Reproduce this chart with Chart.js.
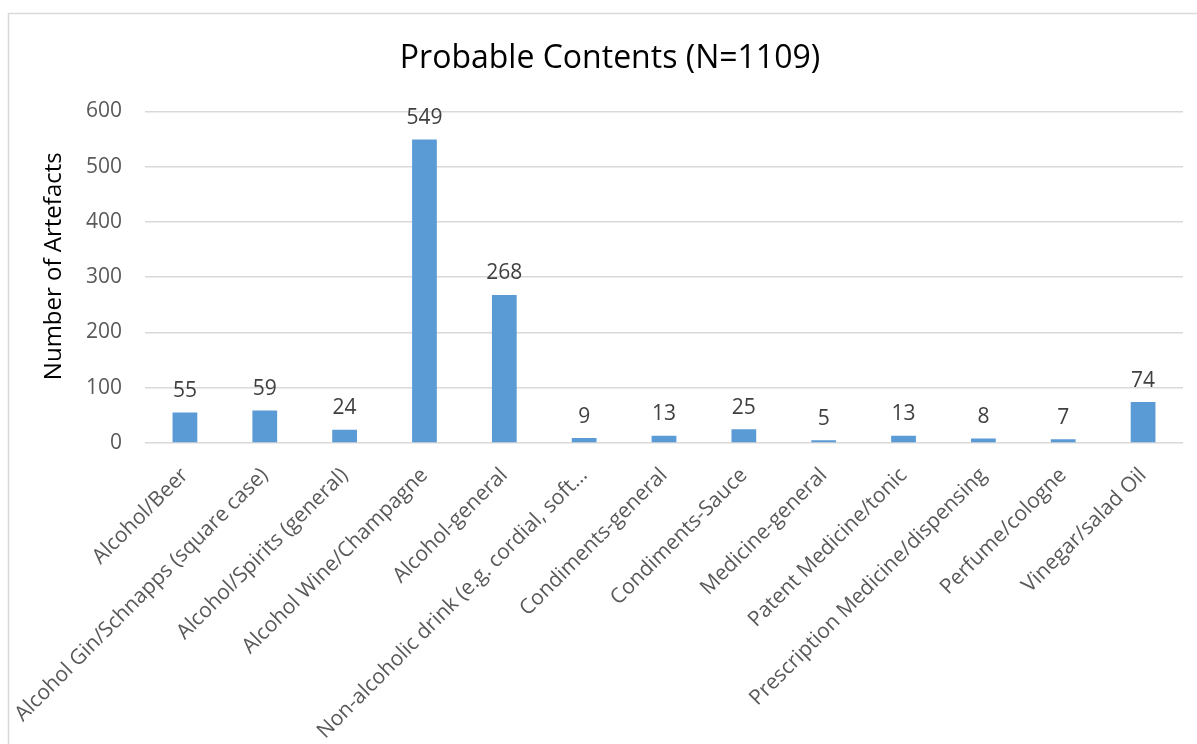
<!DOCTYPE html>
<html>
<head>
<meta charset="utf-8">
<script src="https://cdn.jsdelivr.net/npm/chart.js@4/dist/chart.umd.min.js"></script>
<style>
  html, body { margin: 0; padding: 0; background: #fff; }
  canvas { display: block; }
</style>
</head>
<body>
<canvas id="contents" width="1197" height="744"></canvas>
<script>
const categories = [
  'Alcohol/Beer',
  'Alcohol Gin/Schnapps (square case)',
  'Alcohol/Spirits (general)',
  'Alcohol Wine/Champagne',
  'Alcohol-general',
  'Non-alcoholic drink (e.g. cordial, soft…',
  'Condiments-general',
  'Condiments-Sauce',
  'Medicine-general',
  'Patent Medicine/tonic',
  'Prescription Medicine/dispensing',
  'Perfume/cologne',
  'Vinegar/salad Oil'
]
const artefactCounts = [55, 59, 24, 549, 268, 9, 13, 25, 5, 13, 8, 7, 74]
const yTickValues = [0, 100, 200, 300, 400, 500, 600]
const yAxisTitle = 'Number of Artefacts'

const FONT = "'Open Sans', 'Noto Sans', sans-serif"

// white background and light grey frame around the whole chart
const framePlugin = {
  id: 'frame',
  beforeDraw: (chart) => {
    const { ctx } = chart
    ctx.save()
    ctx.fillStyle = '#ffffff'
    ctx.fillRect(0, 0, chart.width, chart.height)
    ctx.strokeStyle = '#d9d9d9'
    ctx.lineWidth = 1.5
    ctx.strokeRect(8.5, 13.5, chart.width + 20, chart.height + 20)
    ctx.restore()
  }
}

// vertical axis title, sits a little above the middle of the plot
const axisTitlePlugin = {
  id: 'axisTitle',
  afterDraw: (chart) => {
    const { ctx, chartArea } = chart
    ctx.save()
    ctx.font = '24px ' + FONT
    ctx.fillStyle = '#000000'
    ctx.textAlign = 'center'
    ctx.textBaseline = 'middle'
    ctx.translate(54, (chartArea.top + chartArea.bottom) / 2 - 11)
    ctx.rotate(-Math.PI / 2)
    ctx.fillText(yAxisTitle, 0, 0)
    ctx.restore()
  }
}

// value printed above each bar
const valueLabels = {
  id: 'valueLabels',
  afterDatasetsDraw: (chart) => {
    const { ctx } = chart
    const meta = chart.getDatasetMeta(0)
    ctx.save()
    ctx.font = '21px ' + FONT
    ctx.fillStyle = '#404040'
    ctx.textAlign = 'center'
    ctx.textBaseline = 'bottom'
    meta.data.forEach((bar, i) => {
      ctx.fillText(String(chart.data.datasets[0].data[i]), bar.x, bar.y - 11)
    })
    ctx.restore()
  }
}

new Chart(document.getElementById('contents').getContext('2d'), {
  type: 'bar',
  data: {
    labels: categories,
    datasets: [{
      label: yAxisTitle,
      data: artefactCounts,
      backgroundColor: '#5b9bd5',
      borderWidth: 0,
      barPercentage: 0.31,
      categoryPercentage: 1
    }]
  },
  plugins: [framePlugin, valueLabels, axisTitlePlugin],
  options: {
    responsive: false,
    animation: false,
    layout: { padding: { left: 37, right: 14, top: 0, bottom: 0 } },
    plugins: {
      legend: { display: false },
      tooltip: { enabled: false },
      title: {
        display: true,
        text: 'Probable Contents (N=1109)',
        color: '#000000',
        font: { family: FONT, size: 32, weight: 'normal' },
        padding: { top: 40, bottom: 33 }
      }
    },
    scales: {
      x: {
        grid: { display: false },
        border: { display: false },
        ticks: {
          autoSkip: false,
          maxRotation: 45,
          minRotation: 45,
          padding: 12,
          color: '#595959',
          font: { family: FONT, size: 21 }
        },
        afterFit: (scale) => { scale.height = 301 }
      },
      y: {
        min: 0,
        max: 600,
        afterBuildTicks: (scale) => {
          scale.ticks = yTickValues.map(v => ({ value: v }))
        },
        grid: { color: '#d9d9d9', lineWidth: 1.5, drawTicks: false },
        border: { display: false },
        ticks: {
          padding: 23,
          color: '#595959',
          font: { family: FONT, size: 21 }
        },
        afterFit: (scale) => { scale.width = 108 }
      }
    }
  }
})
</script>
</body>
</html>
